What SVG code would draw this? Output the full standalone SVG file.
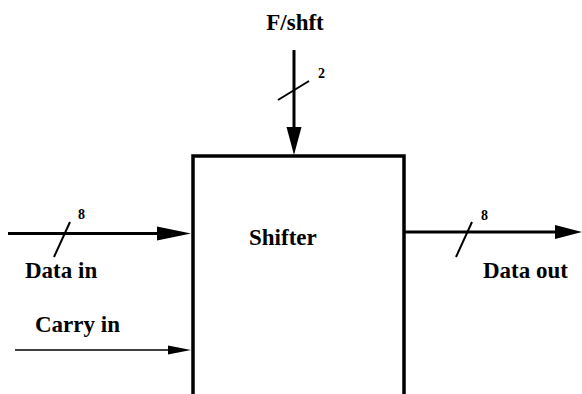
<svg xmlns="http://www.w3.org/2000/svg" width="582" height="394" viewBox="0 0 582 394">
<style>
text{font-family:"Liberation Serif","Times New Roman",serif;font-weight:bold;fill:#000}
.lbl{font-size:23px}
.bw{font-size:14px}
.bus{stroke:#000;stroke-width:3;fill:none}
.thin{stroke:#000;stroke-width:1.5;fill:none}
.sl{stroke:#000;stroke-width:2;fill:none}
.hd{fill:#000;stroke:none}
</style>
<rect width="582" height="394" fill="#fff"/>
<g id="shifter">
<path d="M193,394 V156 H404 V394" fill="none" stroke="#000" stroke-width="3.5"/>
<text class="lbl" x="249" y="245">Shifter</text>
</g>
<g id="connectors">
<g id="fshft">
<line class="bus" x1="294" y1="50" x2="294" y2="130"/>
<path class="hd" d="M286.5,127 L301.5,127 L294,155 Z"/>
<line class="sl" x1="278" y1="100" x2="309" y2="81"/>
</g>
<g id="datain">
<line class="bus" x1="8" y1="233.5" x2="160" y2="233.5"/>
<path class="hd" d="M157,226.5 L191,233.5 L157,240.5 Z"/>
<line class="sl" x1="54" y1="257" x2="70" y2="222"/>
</g>
<g id="carryin">
<line class="thin" x1="15" y1="350" x2="170" y2="350"/>
<path class="hd" d="M168,345.5 L191,350 L168,354.5 Z"/>
</g>
<g id="dataout">
<line class="bus" x1="405" y1="232" x2="558" y2="232"/>
<path class="hd" d="M555,225 L582,232 L555,239 Z"/>
<line class="sl" x1="456" y1="257" x2="472" y2="222"/>
</g>
</g>
<text class="lbl" x="295" y="30" text-anchor="middle">F/shft</text>
<text class="bw" x="318" y="78">2</text>
<text class="bw" x="78" y="219">8</text>
<text class="bw" x="481" y="220">8</text>
<text class="lbl" x="25" y="278">Data in</text>
<text class="lbl" x="35" y="332">Carry in</text>
<text class="lbl" x="483" y="278">Data out</text>
</svg>
